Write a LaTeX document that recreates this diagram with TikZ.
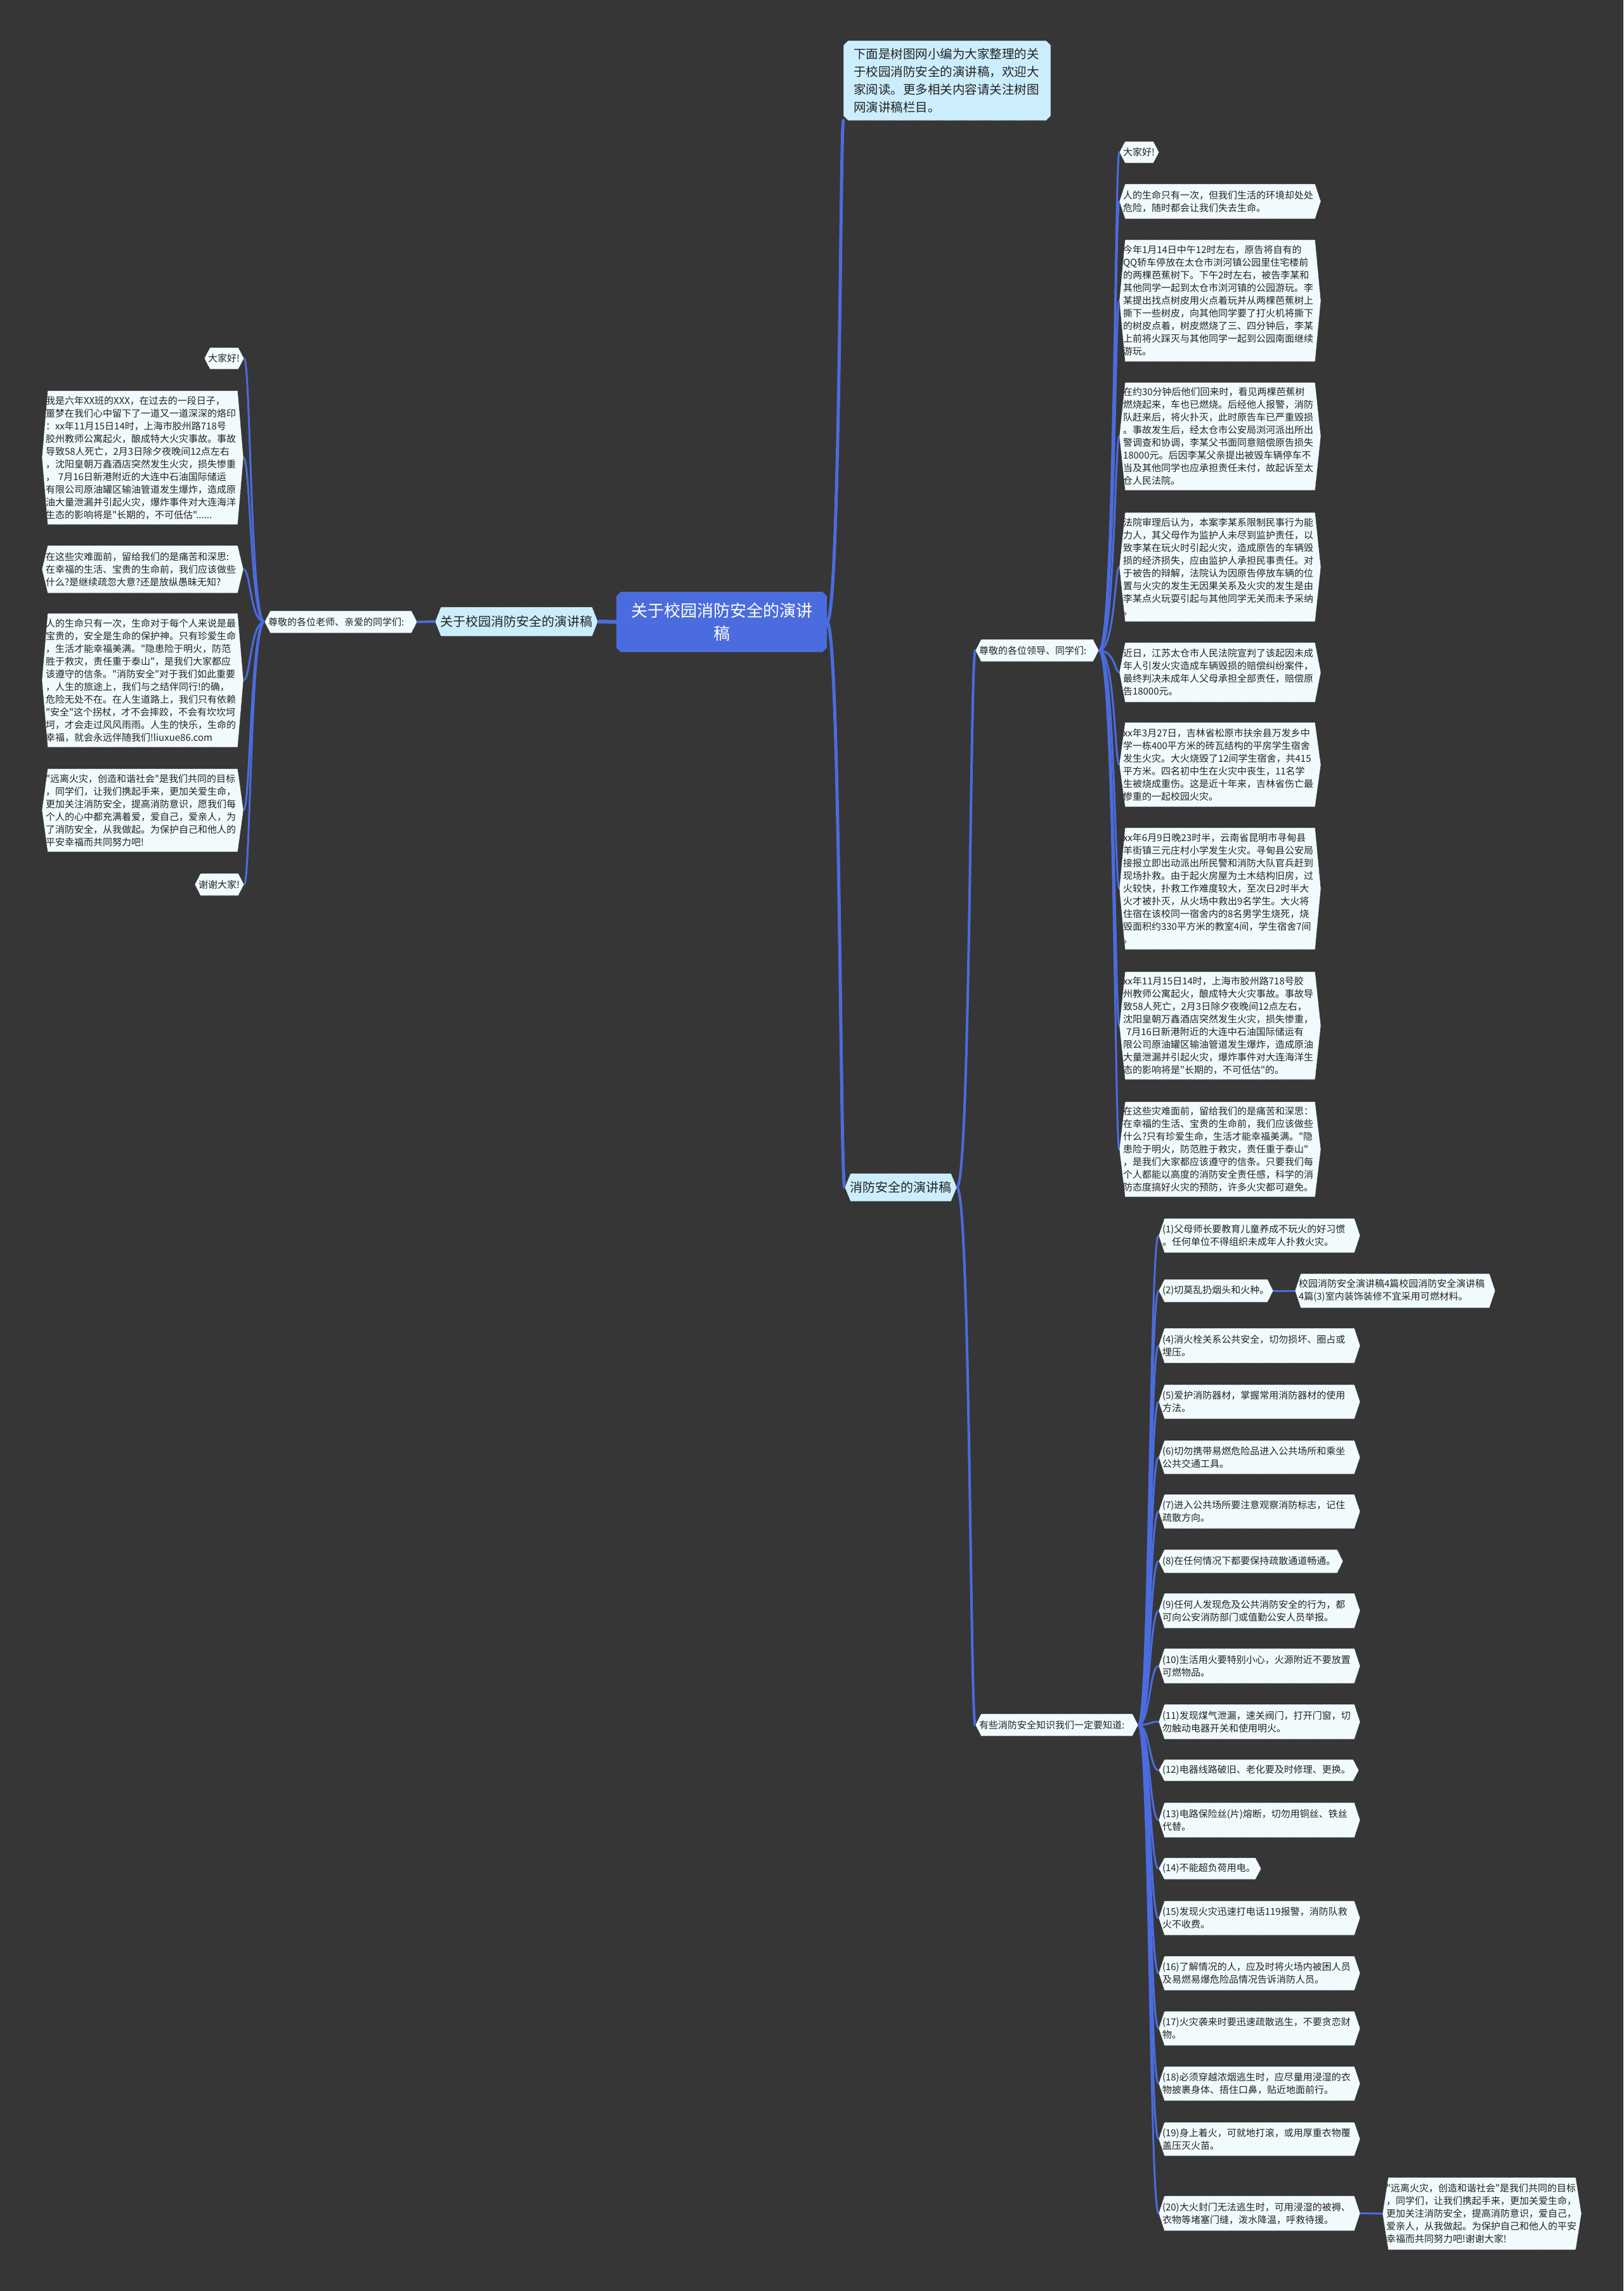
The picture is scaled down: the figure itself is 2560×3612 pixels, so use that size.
\documentclass[tikz,border=0pt]{standalone}
\usepackage{fontspec}
\setmainfont{Noto Sans CJK SC}[Ligatures=TeXOff]
\usetikzlibrary{calc}
\pgfdeclarelayer{back}\pgfdeclarelayer{lines}\pgfdeclarelayer{bg}
\pgfsetlayers{back,lines,bg,main}
\definecolor{bgc}{RGB}{54,54,54}
\definecolor{lnc}{RGB}{75,108,222}
\definecolor{rootc}{RGB}{74,108,222}
\definecolor{lbc}{RGB}{204,238,252}
\definecolor{leafc}{RGB}{241,251,253}
\definecolor{txc}{RGB}{35,35,35}
\definecolor{bdc}{RGB}{25,25,25}
\tikzset{
 mmbase/.style={rectangle,inner sep=0pt,outer sep=0pt,align=left,text=txc},
 leaftxt/.style={font=\fontsize{15}{20}\selectfont},
 leafshp/.style={fill=leafc,draw=bdc,densely dotted,line width=0.9pt},
 lbshp/.style={fill=lbc,draw=bdc,densely dotted,line width=0.9pt},
 sectxt/.style={font=\fontsize{20}{26}\selectfont,align=center},
 introtxt/.style={font=\fontsize{19.5}{28}\selectfont,text width=295pt},
 roottxt/.style={font=\fontsize{26}{36}\selectfont,align=center,text=white},
 rootshp/.style={fill=rootc},
 conn/.style={draw=lnc,line width=#1,line cap=round},
 via/.style={to path={.. controls (\tikztostart -| #1) and (\tikztotarget -| #1) .. (\tikztotarget)}},
}
% hexagon-like node: #1 shape style, #2 text style, #3 XL, #4 YT, #5 XR, #6 YB, #7 name, #8 text
\newcommand\mm[8]{%
  \pgfmathsetmacro\mmW{#5-#3}%
  \pgfmathsetmacro\mmH{#6-#4}%
  \pgfmathsetmacro\mmT{#5-#3-12}%
  \pgfmathsetmacro\mmX{(#3+#5)/2}%
  \pgfmathsetmacro\mmY{(#4+#6)/2}%
  \node[mmbase,minimum width=\mmW pt,minimum height=\mmH pt,text width=\mmT pt,#2] (#7) at (\mmX,\mmY) {#8};%
  \begin{pgfonlayer}{bg}%
    \path[#1] ([xshift=9pt]#7.north west) -- ([xshift=-9pt]#7.north east) -- (#7.east) -- ([xshift=-9pt]#7.south east) -- ([xshift=9pt]#7.south west) -- (#7.west) -- cycle;%
  \end{pgfonlayer}%
}
% chamfered node
\newcommand\mmc[8]{%
  \pgfmathsetmacro\mmW{#5-#3}%
  \pgfmathsetmacro\mmH{#6-#4}%
  \pgfmathsetmacro\mmT{#5-#3-12}%
  \pgfmathsetmacro\mmX{(#3+#5)/2}%
  \pgfmathsetmacro\mmY{(#4+#6)/2}%
  \node[mmbase,minimum width=\mmW pt,minimum height=\mmH pt,text width=\mmT pt,#2] (#7) at (\mmX,\mmY) {#8};%
  \begin{pgfonlayer}{bg}%
    \path[#1] ([xshift=7pt]#7.north west) -- ([xshift=-7pt]#7.north east) -- ([yshift=-7pt]#7.north east) -- ([yshift=7pt]#7.south east) -- ([xshift=-7pt]#7.south east) -- ([xshift=7pt]#7.south west) -- ([yshift=7pt]#7.south west) -- ([yshift=-7pt]#7.north west) -- cycle;%
  \end{pgfonlayer}%
}
\begin{document}
\begin{tikzpicture}[x=1pt,y=-1pt]
\begin{pgfonlayer}{back}
\fill[bgc] (0,0) rectangle (2560,3612);
\end{pgfonlayer}
\useasboundingbox (0,0) rectangle (2560,3612);

\coordinate (tA) at (1325,0);
\coordinate (tL) at (395,0);
\coordinate (tB) at (1530,0);
\coordinate (tC) at (1758,0);
\coordinate (tD) at (1813,0);

% root and main branches
\mmc{rootshp}{roottxt}{972}{933}{1304}{1028}{root}{关于校园消防安全的演讲\\稿}
\mmc{lbshp}{introtxt}{1330}{64}{1657}{190}{intro}{下面是树图网小编为大家整理的关\\于校园消防安全的演讲稿，欢迎大\\家阅读。更多相关内容请关注树图\\网演讲稿栏目。}
\mm{lbshp}{sectxt}{686}{957}{943}{1003}{sl}{关于校园消防安全的演讲稿}
\mm{lbshp}{sectxt}{1332}{1850}{1509}{1894}{sr}{消防安全的演讲稿}
\mm{leafshp}{leaftxt}{417}{963}{658}{998}{zj1}{尊敬的各位老师、亲爱的同学们:}
\mm{leafshp}{leaftxt}{1538}{1008}{1733}{1043}{zj2}{尊敬的各位领导、同学们:}
\mm{leafshp}{leaftxt}{1538}{2702}{1795}{2737}{ys}{有些消防安全知识我们一定要知道:}

% left leaves
\mm{leafshp}{leaftxt}{322}{548}{385}{582}{L1}{大家好!}
\mm{leafshp}{leaftxt}{66}{616}{384}{827}{L2}{我是六年XX班的XXX，在过去的一段日子，\\噩梦在我们心中留下了一道又一道深深的烙印\\：xx年11月15日14时，上海市胶州路718号\\胶州教师公寓起火，酿成特大火灾事故。事故\\导致58人死亡，2月3日除夕夜晚间12点左右\\，沈阳皇朝万鑫酒店突然发生火灾，损失惨重\\，\ 7月16日新港附近的大连中石油国际储运\\有限公司原油罐区输油管道发生爆炸，造成原\\油大量泄漏并引起火灾，爆炸事件对大连海洋\\生态的影响将是"长期的，不可低估"......}
\mm{leafshp}{leaftxt}{66}{860}{384}{935}{L3}{在这些灾难面前，留给我们的是痛苦和深思:\\在幸福的生活、宝贵的生命前，我们应该做些\\什么?是继续疏忽大意?还是放纵愚昧无知?}
\mm{leafshp}{leaftxt}{66}{967}{384}{1178}{L4}{人的生命只有一次，生命对于每个人来说是最\\宝贵的，安全是生命的保护神。只有珍爱生命\\，生活才能幸福美满。"隐患险于明火，防范\\胜于救灾，责任重于泰山"，是我们大家都应\\该遵守的信条。"消防安全"对于我们如此重要\\，人生的旅途上，我们与之结伴同行!的确，\\危险无处不在。在人生道路上，我们只有依赖\\"安全"这个拐杖，才不会摔跤，不会有坎坎坷\\坷，才会走过风风雨雨。人生的快乐，生命的\\幸福，就会永远伴随我们!liuxue86.com}
\mm{leafshp}{leaftxt}{66}{1212}{384}{1343}{L5}{"远离火灾，创造和谐社会"是我们共同的目标\\，同学们，让我们携起手来，更加关爱生命，\\更加关注消防安全，提高消防意识，愿我们每\\个人的心中都充满着爱，爱自己，爱亲人，为\\了消防安全，从我做起。为保护自己和他人的\\平安幸福而共同努力吧!}
\mm{leafshp}{leaftxt}{307}{1377}{385}{1412}{L6}{谢谢大家!}

% right leaves under zj2
\mm{leafshp}{leaftxt}{1765}{223}{1828}{257}{R1}{大家好!}
\mm{leafshp}{leaftxt}{1765}{290}{2083}{345}{R2}{人的生命只有一次，但我们生活的环境却处处\\危险，随时都会让我们失去生命。}
\mm{leafshp}{leaftxt}{1765}{378}{2083}{570}{R3}{今年1月14日中午12时左右，原告将自有的\\QQ轿车停放在太仓市浏河镇公园里住宅楼前\\的两棵芭蕉树下。下午2时左右，被告李某和\\其他同学一起到太仓市浏河镇的公园游玩。李\\某提出找点树皮用火点着玩并从两棵芭蕉树上\\撕下一些树皮，向其他同学要了打火机将撕下\\的树皮点着，树皮燃烧了三、四分钟后，李某\\上前将火踩灭与其他同学一起到公园南面继续\\游玩。}
\mm{leafshp}{leaftxt}{1765}{603}{2083}{773}{R4}{在约30分钟后他们回来时，看见两棵芭蕉树\\燃烧起来，车也已燃烧。后经他人报警，消防\\队赶来后，将火扑灭，此时原告车已严重毁损\\。事故发生后，经太仓市公安局浏河派出所出\\警调查和协调，李某父书面同意赔偿原告损失\\18000元。后因李某父亲提出被毁车辆停车不\\当及其他同学也应承担责任未付，故起诉至太\\仓人民法院。}
\mm{leafshp}{leaftxt}{1765}{808}{2083}{980}{R5}{法院审理后认为，本案李某系限制民事行为能\\力人，其父母作为监护人未尽到监护责任，以\\致李某在玩火时引起火灾，造成原告的车辆毁\\损的经济损失，应由监护人承担民事责任。对\\于被告的辩解，法院认为因原告停放车辆的位\\置与火灾的发生无因果关系及火灾的发生是由\\李某点火玩耍引起与其他同学无关而未予采纳\\。}
\mm{leafshp}{leaftxt}{1765}{1013}{2083}{1107}{R6}{近日，江苏太仓市人民法院宣判了该起因未成\\年人引发火灾造成车辆毁损的赔偿纠纷案件，\\最终判决未成年人父母承担全部责任，赔偿原\\告18000元。}
\mm{leafshp}{leaftxt}{1765}{1139}{2083}{1272}{R7}{xx年3月27日，吉林省松原市扶余县万发乡中\\学一栋400平方米的砖瓦结构的平房学生宿舍\\发生火灾。大火烧毁了12间学生宿舍，共415\\平方米。四名初中生在火灾中丧生，11名学\\生被烧成重伤。这是近十年来，吉林省伤亡最\\惨重的一起校园火灾。}
\mm{leafshp}{leaftxt}{1765}{1305}{2083}{1497}{R8}{xx年6月9日晚23时半，云南省昆明市寻甸县\\羊街镇三元庄村小学发生火灾。寻甸县公安局\\接报立即出动派出所民警和消防大队官兵赶到\\现场扑救。由于起火房屋为土木结构旧房，过\\火较快，扑救工作难度较大，至次日2时半大\\火才被扑灭，从火场中救出9名学生。大火将\\住宿在该校同一宿舍内的8名男学生烧死，烧\\毁面积约330平方米的教室4间，学生宿舍7间\\。}
\mm{leafshp}{leaftxt}{1765}{1532}{2083}{1702}{R9}{xx年11月15日14时，上海市胶州路718号胶\\州教师公寓起火，酿成特大火灾事故。事故导\\致58人死亡，2月3日除夕夜晚间12点左右，\\沈阳皇朝万鑫酒店突然发生火灾，损失惨重，\\\ 7月16日新港附近的大连中石油国际储运有\\限公司原油罐区输油管道发生爆炸，造成原油\\大量泄漏并引起火灾，爆炸事件对大连海洋生\\态的影响将是"长期的，不可低估"的。}
\mm{leafshp}{leaftxt}{1765}{1737}{2083}{1887}{R10}{在这些灾难面前，留给我们的是痛苦和深思：\\在幸福的生活、宝贵的生命前，我们应该做些\\什么?只有珍爱生命，生活才能幸福美满。"隐\\患险于明火，防范胜于救灾，责任重于泰山"\\，是我们大家都应该遵守的信条。只要我们每\\个人都能以高度的消防安全责任感，科学的消\\防态度搞好火灾的预防，许多火灾都可避免。}

% leaves under ys
\mm{leafshp}{leaftxt}{1827}{1921}{2145}{1975}{N1}{(1)父母师长要教育儿童养成不玩火的好习惯\\。任何单位不得组织未成年人扑救火灾。}
\mm{leafshp}{leaftxt}{1827}{2017}{2008}{2053}{N2}{(2)切莫乱扔烟头和火种。}
\mm{leafshp}{leaftxt}{2042}{2008}{2358}{2062}{N3}{校园消防安全演讲稿4篇校园消防安全演讲稿\\4篇(3)室内装饰装修不宜采用可燃材料。}
\mm{leafshp}{leaftxt}{1827}{2094}{2145}{2149}{N4}{(4)消火栓关系公共安全，切勿损坏、圈占或\\埋压。}
\mm{leafshp}{leaftxt}{1827}{2183}{2145}{2237}{N5}{(5)爱护消防器材，掌握常用消防器材的使用\\方法。}
\mm{leafshp}{leaftxt}{1827}{2271}{2145}{2324}{N6}{(6)切勿携带易燃危险品进入公共场所和乘坐\\公共交通工具。}
\mm{leafshp}{leaftxt}{1827}{2356}{2145}{2410}{N7}{(7)进入公共场所要注意观察消防标志，记住\\疏散方向。}
\mm{leafshp}{leaftxt}{1827}{2443}{2118}{2480}{N8}{(8)在任何情况下都要保持疏散通道畅通。}
\mm{leafshp}{leaftxt}{1827}{2512}{2145}{2567}{N9}{(9)任何人发现危及公共消防安全的行为，都\\可向公安消防部门或值勤公安人员举报。}
\mm{leafshp}{leaftxt}{1827}{2599}{2145}{2654}{N10}{(10)生活用火要特别小心，火源附近不要放置\\可燃物品。}
\mm{leafshp}{leaftxt}{1827}{2687}{2145}{2742}{N11}{(11)发现煤气泄漏，速关阀门，打开门窗，切\\勿触动电器开关和使用明火。}
\mm{leafshp}{leaftxt}{1827}{2774}{2143}{2808}{N12}{(12)电器线路破旧、老化要及时修理、更换。}
\mm{leafshp}{leaftxt}{1827}{2842}{2145}{2897}{N13}{(13)电路保险丝(片)熔断，切勿用铜丝、铁丝\\代替。}
\mm{leafshp}{leaftxt}{1827}{2929}{1989}{2963}{N14}{(14)不能超负荷用电。}
\mm{leafshp}{leaftxt}{1827}{2997}{2145}{3051}{N15}{(15)发现火灾迅速打电话119报警，消防队救\\火不收费。}
\mm{leafshp}{leaftxt}{1827}{3084}{2145}{3138}{N16}{(16)了解情况的人，应及时将火场内被困人员\\及易燃易爆危险品情况告诉消防人员。}
\mm{leafshp}{leaftxt}{1827}{3171}{2145}{3225}{N17}{(17)火灾袭来时要迅速疏散逃生，不要贪恋财\\物。}
\mm{leafshp}{leaftxt}{1827}{3258}{2145}{3312}{N18}{(18)必须穿越浓烟逃生时，应尽量用浸湿的衣\\物披裹身体、捂住口鼻，贴近地面前行。}
\mm{leafshp}{leaftxt}{1827}{3346}{2145}{3399}{N19}{(19)身上着火，可就地打滚，或用厚重衣物覆\\盖压灭火苗。}
\mm{leafshp}{leaftxt}{1827}{3462}{2145}{3517}{N20}{(20)大火封门无法逃生时，可用浸湿的被褥、\\衣物等堵塞门缝，泼水降温，呼救待援。}
\mm{leafshp}{leaftxt}{2180}{3433}{2494}{3547}{N21}{"远离火灾，创造和谐社会"是我们共同的目标\\，同学们，让我们携起手来，更加关爱生命，\\更加关注消防安全，提高消防意识，爱自己，\\爱亲人，从我做起。为保护自己和他人的平安\\幸福而共同努力吧!谢谢大家!}

% connectors
\begin{pgfonlayer}{lines}
\draw[conn=6pt] (root.west) -- (sl.east);
\draw[conn=4pt] (sl.west) -- (zj1.east);
\foreach \i in {1,...,6} \draw[conn=3pt] (zj1.west) to[via=tL] (L\i.east);
\draw[conn=5pt] (root.east) to[via=tA] (intro.south west);
\draw[conn=5pt] (root.east) to[via=tA] (sr.west);
\draw[conn=4pt] (sr.east) to[via=tB] (zj2.west);
\draw[conn=4pt] (sr.east) to[via=tB] (ys.west);
\foreach \i in {1,...,10} \draw[conn=3pt] (zj2.east) to[via=tC] (R\i.west);
\foreach \i in {1,2,4,5,6,7,8,9,10,11,12,13,14,15,16,17,18,19,20} \draw[conn=3pt] (ys.east) to[via=tD] (N\i.west);
\draw[conn=3pt] (N2.east) -- (N3.west);
\draw[conn=3pt] (N20.east) -- (N21.west);
\end{pgfonlayer}
\end{tikzpicture}
\end{document}
